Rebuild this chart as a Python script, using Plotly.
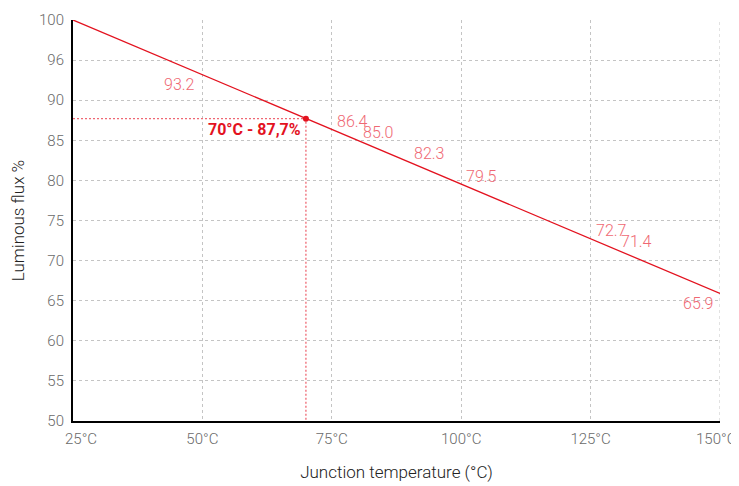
import plotly.graph_objects as go

line_x = [25, 150]
line_y = [100, 65.9]

label_x = [50, 75, 80, 90, 100, 125, 130, 150]
label_y = [93.2, 86.4, 85.0, 82.3, 79.5, 72.7, 71.4, 65.9]
label_pos = ["bottom left", "top right", "top right", "top right", "top right",
             "top right", "top right", "bottom left"]

mark_x = 70
mark_y = 87.7
mark_text = "70°C - 87,7%"

x_ticks = [25, 50, 75, 100, 125, 150]
x_tick_text = ["25°C", "50°C", "75°C", "100°C", "125°C", "150°C"]
y_ticks = [50, 55, 60, 65, 70, 75, 80, 85, 90, 95, 100]
y_tick_text = ["50", "55", "60", "65", "70", "75", "80", "85", "90", "96", "100"]

FONT = "Roboto, Liberation Sans, Arial, sans-serif"
RED = "#e3121f"
LIGHT = "#ef6873"
GRID = "#c4c4c4"
TICK = "#6a6a6a"

fig = go.Figure()
fig.add_trace(go.Scatter(x=line_x, y=line_y, mode="lines",
                         line=dict(color=RED, width=1.3), hoverinfo="skip"))
fig.add_trace(go.Scatter(x=[line_x[0], mark_x, mark_x], y=[mark_y, mark_y, 50],
                         mode="lines", line=dict(color=LIGHT, width=1.3, dash="2px,2px")))
fig.add_trace(go.Scatter(x=[mark_x], y=[mark_y], mode="markers",
                         marker=dict(color=RED, size=6)))

for x, y, pos in zip(label_x, label_y, label_pos):
    if pos == "top right":
        kw = dict(xanchor="left", yanchor="middle", xshift=3, yshift=8)
    else:
        kw = dict(xanchor="right", yanchor="middle", xshift=-5, yshift=-10)
    fig.add_annotation(x=x, y=y, text=f"{y:.1f}", showarrow=False,
                       font=dict(color=LIGHT, size=16, family=FONT, weight=300), **kw)

fig.add_annotation(x=mark_x, y=mark_y, text=f"<b>{mark_text}</b>", showarrow=False,
                   xanchor="right", yanchor="middle", xshift=-3, yshift=-11,
                   font=dict(color=RED, size=16, family=FONT))

# end tick labels kept inside the chart, as in the reference
axis_tick_text = [""] + x_tick_text[1:-1] + [""]
for tv, tt, shift in [(x_ticks[0], x_tick_text[0], 8), (x_ticks[-1], x_tick_text[-1], -4)]:
    fig.add_annotation(x=tv, y=0, xref="x", yref="paper", text=tt, showarrow=False,
                       xanchor="center", yanchor="top", xshift=shift, yshift=-7,
                       font=dict(color=TICK, size=15, family=FONT, weight=300))

# grid line at the right edge of the range
fig.add_shape(type="line", xref="x", yref="paper", x0=150, x1=150, y0=0, y1=1,
              line=dict(color=GRID, width=1, dash="3px,3px"), layer="below")

axis_common = dict(showgrid=True, gridcolor=GRID, griddash="3px,3px", gridwidth=1,
                   showline=True, linecolor="black", linewidth=2,
                   zeroline=False, ticks="", automargin=False,
                   tickfont=dict(size=15, color=TICK, family=FONT, weight=300))

fig.update_layout(
    width=731, height=478,
    margin=dict(l=65, r=19, t=12, b=65),
    plot_bgcolor="white", paper_bgcolor="white",
    showlegend=False,
    font=dict(family=FONT, color=TICK, size=15),
    xaxis=dict(range=[25, 150], tickvals=x_ticks, ticktext=axis_tick_text,
               ticklabelstandoff=3,
               title=dict(text="Junction temperature (°C)",
                          font=dict(size=17, color="#222222", family=FONT, weight=300),
                          standoff=19),
               **axis_common),
    yaxis=dict(range=[50, 100], tickvals=y_ticks, ticktext=y_tick_text,
               ticklabelstandoff=4,
               title=dict(text="Luminous flux %",
                          font=dict(size=17, color="#222222", family=FONT, weight=300),
                          standoff=12),
               **axis_common),
)
fig.write_html("out.html")
